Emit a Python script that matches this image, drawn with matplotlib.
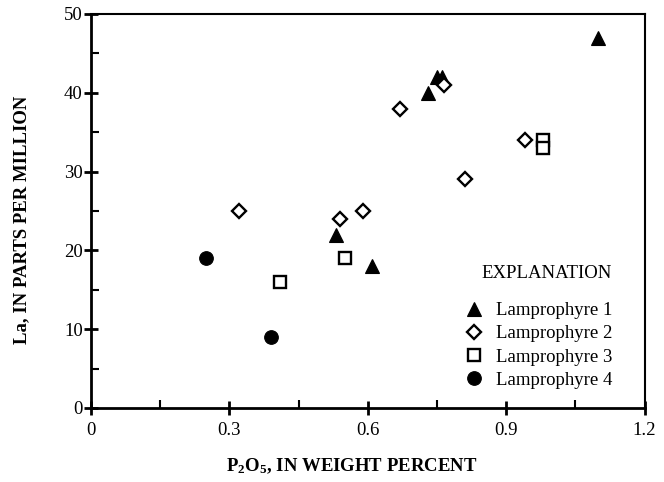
import matplotlib
matplotlib.use("Agg")
import matplotlib.pyplot as plt
from matplotlib.ticker import MultipleLocator

plt.rcParams['font.family'] = ['Liberation Serif', 'DejaVu Serif']
plt.rcParams['mathtext.fontset'] = 'custom'
plt.rcParams['mathtext.rm'] = 'Liberation Serif'
plt.rcParams['mathtext.bf'] = 'Liberation Serif:bold'

# Data
lamp1_x = [0.53, 0.61, 0.73, 0.75, 0.76, 1.10]
lamp1_y = [22, 18, 40, 42, 42, 47]
lamp2_x = [0.32, 0.54, 0.59, 0.67, 0.765, 0.81, 0.94]
lamp2_y = [25, 24, 25, 38, 41, 29, 34]
lamp3_x = [0.41, 0.55, 0.98, 0.98]
lamp3_y = [16, 19, 34, 33]
lamp4_x = [0.25, 0.39]
lamp4_y = [19, 9]
labels = ["Lamprophyre 1", "Lamprophyre 2", "Lamprophyre 3", "Lamprophyre 4"]
x_ticks = [0, 0.3, 0.6, 0.9, 1.2]
x_ticklabels = ["0", "0.3", "0.6", "0.9", "1.2"]
y_ticks = [0, 10, 20, 30, 40, 50]

fig = plt.figure(figsize=(6.64, 4.82), dpi=100)
ax = fig.add_axes([91/664, 74/482, (644.6-91)/664, (408-14)/482])

ax.plot(lamp1_x, lamp1_y, linestyle='none', marker='^', ms=10.5, mfc='black', mec='black', mew=0.8, label=labels[0], clip_on=False)
ax.plot(lamp2_x, lamp2_y, linestyle='none', marker='D', ms=7.4, mfc='white', mec='black', mew=1.7, label=labels[1], clip_on=False)
ax.plot(lamp3_x, lamp3_y, linestyle='none', marker='s', ms=8.4, mfc='white', mec='black', mew=1.7, label=labels[2], clip_on=False)
ax.plot(lamp4_x, lamp4_y, linestyle='none', marker='o', ms=9.8, mfc='black', mec='black', mew=0.8, label=labels[3], clip_on=False)

ax.set_xlim(0, 1.2)
ax.set_ylim(0, 50)
ax.set_xticks(x_ticks)
ax.set_xticklabels(x_ticklabels)
ax.set_yticks(y_ticks)
ax.xaxis.set_minor_locator(MultipleLocator(0.15))
ax.yaxis.set_minor_locator(MultipleLocator(5))

ax.tick_params(axis='both', which='major', direction='inout', length=10, width=2, labelsize=13.5, top=False, right=False)
ax.tick_params(axis='both', which='minor', direction='in', length=6, width=1.5, top=False, right=False)
ax.tick_params(axis='x', which='major', pad=5)
ax.tick_params(axis='y', which='major', pad=1)

for s in ['left', 'bottom']:
    ax.spines[s].set_linewidth(2)
for s in ['top', 'right']:
    ax.spines[s].set_linewidth(1.5)

ax.set_xlabel(r"$\mathbf{P_2O_5}$" + ", IN WEIGHT PERCENT", fontsize=13.5, fontweight='bold', labelpad=13)
ax.set_ylabel("La, IN PARTS PER MILLION", fontsize=13.5, fontweight='bold', labelpad=24)
ax.xaxis.label.set_x(0.471)
ax.yaxis.label.set_y(0.477)

leg = ax.legend(loc='lower right', bbox_to_anchor=(0.955, 0.03), frameon=False,
                fontsize=13.5, handletextpad=0.55, labelspacing=0.32,
                handlelength=1.2, borderaxespad=0)
ax.text(0.823, 0.342, "EXPLANATION", transform=ax.transAxes, fontsize=13.5,
        ha='center', va='center')

fig.savefig("out.png", dpi=100)
